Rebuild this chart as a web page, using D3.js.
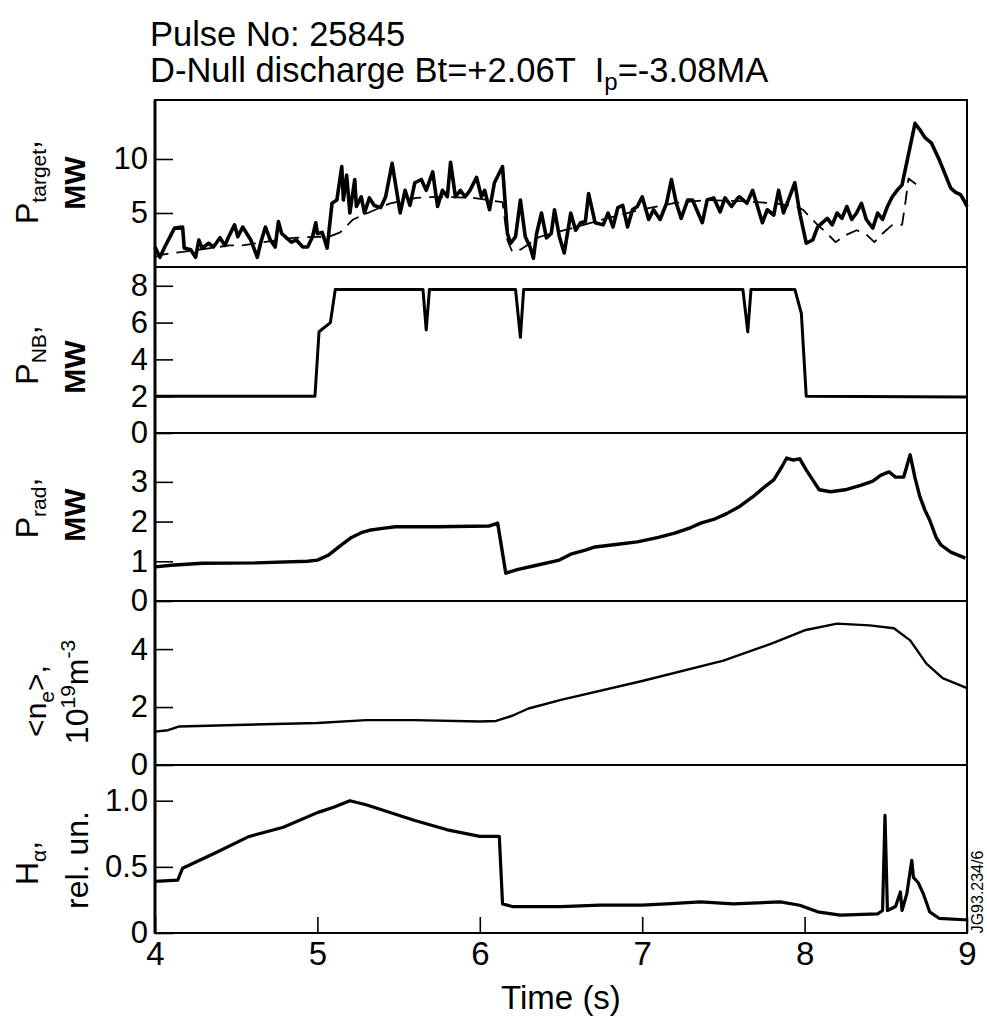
<!DOCTYPE html>
<html>
<head>
<meta charset="utf-8">
<script src="https://cdn.jsdelivr.net/npm/d3@7"></script>
<style>
  body { margin: 0; background: #fff; }
  svg { display: block; font-family: "Liberation Sans", Arial, sans-serif; }
</style>
</head>
<body>
<div id="chart"></div>
<script>
// time axis
const timeTicks = [4, 5, 6, 7, 8, 9];

// P_target (solid) and its reference trace (dashed), MW
const pTarget = [[4.00,1.85],[4.03,0.9],[4.06,1.85],[4.12,3.6],[4.17,3.7],[4.18,1.75],[4.22,1.6],[4.25,0.9],[4.27,2.5],[4.29,1.75],[4.33,2.2],[4.36,1.85],[4.40,2.7],[4.43,2.0],[4.46,3.0],[4.49,3.9],[4.51,2.8],[4.54,3.7],[4.59,2.5],[4.63,0.9],[4.65,2.2],[4.68,3.7],[4.71,2.5],[4.74,1.85],[4.76,4.2],[4.78,3.1],[4.81,2.7],[4.84,2.3],[4.87,2.5],[4.91,1.85],[4.94,1.85],[4.97,2.8],[4.99,4.1],[5.00,3.1],[5.03,3.2],[5.06,1.75],[5.09,5.9],[5.12,6.2],[5.15,9.3],[5.16,6.2],[5.18,8.5],[5.20,5.0],[5.23,8.1],[5.24,5.6],[5.27,6.5],[5.29,5.0],[5.32,6.4],[5.35,5.7],[5.39,5.5],[5.42,6.5],[5.46,9.6],[5.51,5.0],[5.54,7.1],[5.57,5.7],[5.60,7.8],[5.64,8.1],[5.67,7.1],[5.71,8.8],[5.74,5.6],[5.77,7.1],[5.80,6.5],[5.82,9.7],[5.85,6.5],[5.88,7.1],[5.91,6.5],[5.94,7.1],[5.98,8.3],[6.01,6.5],[6.03,7.1],[6.06,5.3],[6.09,7.8],[6.14,9.3],[6.17,3.1],[6.19,2.2],[6.22,2.8],[6.25,6.2],[6.28,2.8],[6.31,1.85],[6.33,0.8],[6.35,3.1],[6.38,5.0],[6.41,2.7],[6.44,3.1],[6.46,5.3],[6.49,2.8],[6.52,1.3],[6.56,5.0],[6.59,3.4],[6.62,4.1],[6.65,4.2],[6.67,6.8],[6.71,4.1],[6.76,3.9],[6.79,5.0],[6.82,3.7],[6.85,5.5],[6.88,5.7],[6.91,3.7],[6.94,5.3],[6.97,5.6],[7.00,6.5],[7.04,4.4],[7.07,5.3],[7.11,4.4],[7.15,5.9],[7.18,8.1],[7.21,5.9],[7.24,4.5],[7.28,6.2],[7.31,6.2],[7.37,4.1],[7.40,6.2],[7.44,6.4],[7.48,5.1],[7.51,6.4],[7.55,5.6],[7.59,6.4],[7.60,6.5],[7.645,5.9],[7.68,7.1],[7.71,5.6],[7.74,4.1],[7.77,5.3],[7.81,4.8],[7.84,7.1],[7.87,5.0],[7.90,6.2],[7.94,7.8],[7.97,5.0],[8.01,2.2],[8.05,2.5],[8.08,3.7],[8.11,4.1],[8.14,4.5],[8.17,3.9],[8.20,5.0],[8.23,4.5],[8.26,5.6],[8.29,4.4],[8.32,5.0],[8.35,5.9],[8.38,4.4],[8.42,3.6],[8.45,5.0],[8.48,4.4],[8.51,5.6],[8.54,6.5],[8.57,7.1],[8.60,7.6],[8.68,13.3],[8.71,12.7],[8.74,12.0],[8.78,11.5],[8.83,9.9],[8.90,7.3],[8.93,6.9],[8.96,6.7],[8.98,6.2],[9.00,5.6]];
const pTargetRef = [[4.00,0.9],[4.03,1.1],[4.11,1.3],[4.17,1.4],[4.46,2.0],[4.54,2.0],[4.67,2.3],[4.85,2.7],[5.00,2.8],[5.07,2.8],[5.14,3.2],[5.22,4.4],[5.31,5.0],[5.45,5.9],[5.61,6.4],[5.74,6.5],[5.96,6.4],[6.14,6.0],[6.17,2.5],[6.20,1.4],[6.25,1.6],[6.37,2.8],[6.57,3.6],[6.78,4.5],[6.99,5.3],[7.19,5.9],[7.40,6.2],[7.60,6.1],[7.81,5.9],[7.95,5.6],[7.99,5.3],[8.08,3.9],[8.14,3.1],[8.19,2.3],[8.26,3.0],[8.32,3.4],[8.38,3.0],[8.43,2.3],[8.48,3.1],[8.54,3.9],[8.60,3.9],[8.62,5.9],[8.64,8.2],[8.71,7.4]];

// neutral beam power, MW
const pNB = [[4.00,2.0],[4.985,2.0],[5.01,5.5],[5.08,6.0],[5.11,7.8],[5.65,7.8],[5.67,5.6],[5.69,7.8],[6.22,7.8],[6.25,5.2],[6.27,7.8],[7.62,7.8],[7.65,5.5],[7.67,7.8],[7.94,7.8],[7.98,6.5],[8.01,2.0],[9.00,1.95]];

// radiated power, MW
const pRad = [[4.00,0.86],[4.10,0.9],[4.29,0.95],[4.62,0.96],[4.94,1.0],[5.00,1.03],[5.07,1.16],[5.15,1.42],[5.21,1.6],[5.27,1.72],[5.32,1.78],[5.40,1.83],[5.48,1.87],[5.74,1.87],[6.06,1.89],[6.11,1.96],[6.16,0.7],[6.23,0.79],[6.35,0.9],[6.49,1.03],[6.56,1.18],[6.65,1.28],[6.71,1.36],[6.85,1.43],[6.97,1.49],[7.10,1.6],[7.20,1.71],[7.30,1.85],[7.36,1.96],[7.45,2.07],[7.52,2.2],[7.60,2.38],[7.68,2.62],[7.75,2.86],[7.81,3.05],[7.86,3.38],[7.89,3.6],[7.93,3.55],[7.97,3.58],[8.01,3.3],[8.05,3.05],[8.09,2.8],[8.16,2.75],[8.25,2.8],[8.35,2.92],[8.42,3.02],[8.47,3.17],[8.52,3.25],[8.56,3.12],[8.61,3.12],[8.65,3.68],[8.68,3.1],[8.71,2.62],[8.74,2.3],[8.77,2.04],[8.81,1.6],[8.84,1.41],[8.90,1.23],[8.99,1.08]];

// line averaged density, 10^19 m^-3
const neAvg = [[4.00,1.15],[4.08,1.2],[4.15,1.33],[4.5,1.38],[5.0,1.45],[5.3,1.55],[5.6,1.55],[6.0,1.5],[6.1,1.52],[6.2,1.7],[6.3,1.95],[6.5,2.25],[7.0,2.9],[7.5,3.6],[7.8,4.2],[8.0,4.65],[8.2,4.88],[8.4,4.82],[8.55,4.72],[8.65,4.3],[8.75,3.5],[8.85,3.0],[9.0,2.65]];

// H-alpha, rel. units
const hAlpha = [[4.00,0.39],[4.14,0.40],[4.17,0.49],[4.38,0.61],[4.58,0.73],[4.79,0.80],[5.00,0.91],[5.10,0.95],[5.20,1.0],[5.30,0.97],[5.4,0.93],[5.6,0.85],[5.8,0.78],[6.0,0.73],[6.12,0.73],[6.14,0.22],[6.2,0.2],[6.5,0.2],[6.74,0.21],[7.0,0.21],[7.15,0.22],[7.36,0.235],[7.56,0.22],[7.85,0.235],[7.97,0.21],[8.08,0.16],[8.22,0.135],[8.45,0.145],[8.48,0.17],[8.495,0.89],[8.51,0.17],[8.56,0.2],[8.59,0.31],[8.60,0.17],[8.63,0.30],[8.66,0.55],[8.67,0.42],[8.70,0.38],[8.73,0.30],[8.77,0.16],[8.83,0.11],[8.98,0.10],[9.0,0.10]];

const yTicks1 = [5, 10];
const yTicks2 = [0, 2, 4, 6, 8];
const yTicks3 = [0, 1, 2, 3];
const yTicks4 = [0, 2, 4];
const yTicks5 = [0, 0.5, 1.0];

const width = 987, height = 1021;
const left = 155, right = 967;

const svg = d3.select("#chart").append("svg")
    .attr("width", width)
    .attr("height", height);

const x = d3.scaleLinear().domain([4, 9]).range([left, right]);

const panels = [
    { top: 100, bottom: 267, max: 15.46, ticks: yTicks1, fmt: d3.format("d"),
      series: [{ data: pTarget, w: 3.6 }, { data: pTargetRef, w: 1.8, dash: "14,8" }] },
    { top: 267, bottom: 433, max: 9.02, ticks: yTicks2, fmt: d3.format("d"),
      series: [{ data: pNB, w: 3 }] },
    { top: 433, bottom: 601, max: 4.23, ticks: yTicks3, fmt: d3.format("d"),
      series: [{ data: pRad, w: 3.4 }] },
    { top: 601, bottom: 765, max: 5.66, ticks: yTicks4, fmt: d3.format("d"),
      series: [{ data: neAvg, w: 2.4 }] },
    { top: 765, bottom: 933, max: 1.27, ticks: yTicks5, fmt: d => d === 0 ? "0" : d3.format(".1f")(d),
      series: [{ data: hAlpha, w: 3.2 }] }
];

panels.forEach(p => {
    const y = d3.scaleLinear().domain([0, p.max]).range([p.bottom, p.top]);
    const line = d3.line().x(d => x(d[0])).y(d => y(d[1]));

    p.series.forEach(s => {
        svg.append("path")
            .datum(s.data)
            .attr("fill", "none")
            .attr("stroke", "#000")
            .attr("stroke-width", s.w)
            .attr("stroke-linejoin", "round")
            .attr("stroke-dasharray", s.dash || null)
            .attr("d", line);
    });

    const ax = svg.append("g")
        .attr("transform", "translate(" + left + ",0)")
        .call(d3.axisLeft(y).tickValues(p.ticks).tickFormat(p.fmt).tickSize(-18).tickPadding(7));
    ax.select(".domain").remove();
    ax.selectAll("line").attr("stroke-width", 1.6);
    ax.selectAll("text")
        .attr("font-size", 31)
        .attr("font-family", "Liberation Sans, Arial, sans-serif")
        .attr("fill", "#000");

    svg.append("rect")
        .attr("x", left).attr("y", p.top)
        .attr("width", right - left).attr("height", p.bottom - p.top)
        .attr("fill", "none").attr("stroke", "#000").attr("stroke-width", 2);
});

// thicker left spine
svg.append("line")
    .attr("x1", left).attr("x2", left)
    .attr("y1", 100).attr("y2", 933)
    .attr("stroke", "#000").attr("stroke-width", 3);

// time axis on bottom panel
const xa = svg.append("g")
    .attr("transform", "translate(0,933)")
    .call(d3.axisBottom(x).tickValues(timeTicks).tickFormat(d3.format("d")).tickSize(-16).tickPadding(9));
xa.select(".domain").remove();
xa.selectAll("line").attr("stroke-width", 1.6);
xa.selectAll("text")
    .attr("font-size", 33)
    .attr("font-family", "Liberation Sans, Arial, sans-serif")
    .attr("fill", "#000");

svg.append("text")
    .attr("x", 561).attr("y", 1009)
    .attr("text-anchor", "middle")
    .attr("font-size", 33)
    .text("Time (s)");

// title
svg.append("text")
    .attr("x", 150).attr("y", 46)
    .attr("font-size", 34.5)
    .text("Pulse No: 25845");
const t2 = svg.append("text")
    .attr("x", 150).attr("y", 82)
    .attr("font-size", 34.5);
t2.append("tspan").text("D-Null discharge Bt=+2.06T");
t2.append("tspan").attr("dx", 19).text("I");
t2.append("tspan").attr("font-size", 24).attr("dy", 8).text("p");
t2.append("tspan").attr("dy", -8).text("=-3.08MA");

// rotated y labels
function vlabel(px, py, parts, size, weight) {
    const t = svg.append("text")
        .attr("transform", "translate(" + px + "," + py + ") rotate(-90)")
        .attr("text-anchor", "middle")
        .attr("font-size", size)
        .attr("font-weight", weight || "normal");
    let shift = 0;
    parts.forEach(pt => {
        const dy = (pt.dy || 0) - shift;
        shift = pt.dy || 0;
        const ts = t.append("tspan").text(pt.s);
        if (dy) ts.attr("dy", dy);
        if (pt.size) ts.attr("font-size", pt.size);
    });
}

vlabel(38, 182, [{ s: "P" }, { s: "target", dy: 8, size: 21 }, { s: "," }], 32);
vlabel(85, 183, [{ s: "MW" }], 30, "bold");
vlabel(38, 355, [{ s: "P" }, { s: "NB", dy: 8, size: 21 }, { s: "," }], 32);
vlabel(85, 367, [{ s: "MW" }], 30, "bold");
vlabel(38, 508, [{ s: "P" }, { s: "rad", dy: 8, size: 21 }, { s: "," }], 32);
vlabel(85, 515, [{ s: "MW" }], 30, "bold");
vlabel(46, 701, [{ s: "<n" }, { s: "e", dy: 8, size: 21 }, { s: ">," }], 30);
vlabel(88, 692, [{ s: "10" }, { s: "19", dy: -13, size: 21 }, { s: "m" }, { s: "-3", dy: -13, size: 21 }], 32);
vlabel(38, 863, [{ s: "H" }, { s: "\u03b1", dy: 8, size: 21 }, { s: "," }], 32);
vlabel(88, 860, [{ s: "rel. un." }], 32);

// figure code
svg.append("text")
    .attr("transform", "translate(983,892) rotate(-90)")
    .attr("text-anchor", "middle")
    .attr("font-size", 16)
    .text("JG93.234/6");
</script>
</body>
</html>
